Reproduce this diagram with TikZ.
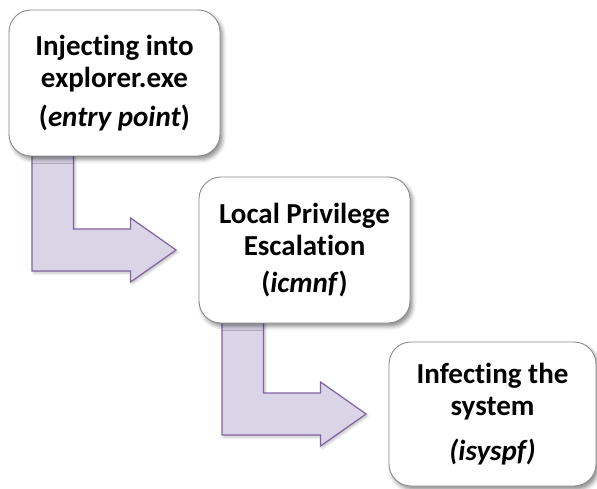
\documentclass[tikz,border=0pt]{standalone}
\usepackage{fontspec}
\setmainfont{Carlito}[Ligatures={NoCommon}]
\usetikzlibrary{calc,shadows.blur}
\pgfdeclarelayer{bg}
\pgfsetlayers{bg,main}
\definecolor{flowfill}{RGB}{217,213,231}
\definecolor{flowline}{RGB}{128,100,162}
\definecolor{boxline}{RGB}{140,140,140}
\tikzset{
  stepbox/.style={draw=boxline, line width=0.9pt, fill=white, rounded corners=22pt,
    align=center, inner sep=0pt,
    font=\fontsize{29}{32.5}\selectfont\bfseries,
    blur shadow={shadow xshift=2.5pt, shadow yshift=-3.5pt, shadow blur radius=4pt, shadow opacity=45}},
  flowarrow/.style={draw=flowline, fill=flowfill, line width=1.2pt, line join=miter,
    blur shadow={shadow xshift=1.5pt, shadow yshift=-2pt, shadow blur radius=2.5pt, shadow opacity=25}}
}
\begin{document}
\begin{tikzpicture}[x=1pt, y=-1pt]
\useasboundingbox (0,0) rectangle (597,489);

% the three stages
\node[stepbox, minimum width=211pt, minimum height=146pt] (b1) at (114.5,83)
  {Injecting into\\explorer.exe\\[6pt](\textit{entry point})};
\node[stepbox, minimum width=211pt, minimum height=146pt] (b2) at (304.5,250)
  {Local Privilege\\Escalation\\[4pt](\textit{icmnf})};
\node[stepbox, minimum width=207pt, minimum height=144pt] (b3) at (492.5,414)
  {Infecting the\\system\\[12pt]\textit{(isyspf)}};

% bent arrows from each stage to the next, tucked under the boxes
\begin{pgfonlayer}{bg}
\foreach \a/\b in {b1/b2, b2/b3} {
  \draw[flowarrow] let \p1=(\a.south west), \p2=(\b.west) in
    (\x1+23.5pt,\y1+10pt) -- (\x1+23.5pt,\y2-21pt) -- (\x2-68pt,\y2-21pt)
    -- (\x2-68pt,\y2-32pt) -- (\x2-22.5pt,\y2) -- (\x2-68pt,\y2+32pt)
    -- (\x2-68pt,\y2+21pt) -- (\x1+65pt,\y2+21pt) -- (\x1+65pt,\y1+10pt) -- cycle;
}
\end{pgfonlayer}
\end{tikzpicture}
\end{document}
